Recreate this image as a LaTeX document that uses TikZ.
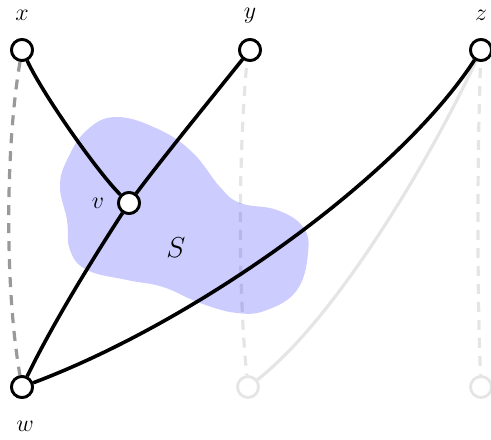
\documentclass[tikz,border=0pt]{standalone}
\begin{document}
\begin{tikzpicture}[x=0.5pt,y=-0.5pt,
  vtx/.style={circle,draw=black,line width=1.4pt,fill=white,minimum size=10.5pt,inner sep=0pt},
  ghost/.style={circle,draw=black!10,line width=1.4pt,fill=white,minimum size=10.5pt,inner sep=0pt},
  edge/.style={line width=1.8pt,black},
  dgrey/.style={line width=1.6pt,black!40,dash pattern=on 5pt off 4pt},
  lgrey/.style={line width=1.6pt,black!10,dash pattern=on 5pt off 4pt},
  lsolid/.style={line width=1.6pt,black!10},
  lab/.style={inner sep=0pt,font=\large}]
\useasboundingbox (0,0) rectangle (491,439);
% grey lines first
\coordinate (xg) at (22,50);
\coordinate (yg) at (248,50);
\coordinate (zg) at (481,50);
\node[ghost] (g1) at (248,387) {};
\node[ghost] (g2) at (481,387) {};
\draw[lgrey] (yg) .. controls (238,150) and (238,290) .. (g1);
\draw[lgrey] (zg) .. controls (477,150) and (477,290) .. (g2);
\draw[lsolid] (zg) .. controls (436,150) and (338,317) .. (g1);
% blob
\fill[blue,fill opacity=0.2] plot[smooth cycle,tension=0.7] coordinates {
 (117,117) (160,130) (193,153) (220,187) (240,203) (277,210) (303,227) (308,253)
 (297,290) (267,310) (237,313) (200,303) (163,287) (127,280) (87,270) (70,250)
 (67,220) (60,187) (67,160) (87,130)};
% main nodes
\node[vtx] (x) at (22,50) {};
\node[vtx] (y) at (250,50) {};
\node[vtx] (z) at (481,50) {};
\node[vtx] (v) at (129,203) {};
\node[vtx] (w) at (22,387) {};
\draw[dgrey] (x) .. controls (5,150) and (5,290) .. (w);
\draw[edge] (x) .. controls (45,98) and (100,175) .. (v);
\draw[edge] (y) .. controls (210,100) and (165,155) .. (v);
\draw[edge] (v) .. controls (90,263) and (51,327) .. (w);
\draw[edge] (w) .. controls (200,320) and (400,175) .. (z);
% redraw nodes on top
\node[vtx] at (x) {};
\node[vtx] at (y) {};
\node[vtx] at (z) {};
\node[vtx] at (v) {};
\node[vtx] at (w) {};
% labels
\node[lab] (lx) at (22,15) {$x$};
\node[lab] (ly) at (250,16) {$y$};
\node[lab] (lz) at (481,15) {$z$};
\node[lab] (lw) at (25,426) {$w$};
\node[lab] (lv) at (98,203) {$v$};
\node[lab,font=\Large] (lS) at (176,248) {$S$};
\end{tikzpicture}
\end{document}
